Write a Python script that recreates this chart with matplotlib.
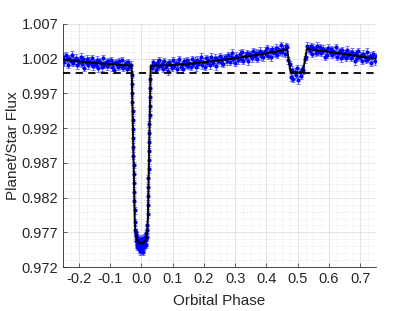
import numpy as np
import matplotlib
matplotlib.use('Agg')
import matplotlib.pyplot as plt
from matplotlib.ticker import AutoMinorLocator, FormatStrFormatter

# phases in units of 0.001, flux in ppm above 1.0
pre_phase = [-250, -246, -242, -238, -234, -230, -226, -222, -218, -214, -210, -206, -202, -198, -194,
             -190, -186, -182, -178, -174, -170, -166, -162, -158, -154, -150, -146, -142, -138, -134,
             -130, -126, -122, -118, -114, -110, -106, -102, -98, -94, -90, -86, -82, -78, -74,
             -70, -66, -62, -58, -54, -50, -46, -42, -38, -34]
pre_flux = [2250, 1456, 2462, 1948, 1104, 2060, 1606, 2572, 1378, 1744, 2130, 1076, 1802, 1501, 2294,
            1306, 1918, 711, 1533, 2026, 1088, 1700, 1373, 2075, 928, 1520, 1127, 1854, 652, 1649,
            1406, 783, 2070, 1158, 1495, 902, 1649, 1196, 1814, 771, 1358, 425, 1512, 1170, 857,
            1644, 951, 1788, 676, 1153, 1360, 447, 1475, 822, 1159]

# primary transit: ingress wall, bottom, egress wall
tr_phase = [-30.41, -29.82, -29.23, -28.64, -28.05, -27.45, -26.86, -26.27, -25.68, -25.09, -24.50,
            -23.91, -23.32, -22.73, -22.14, -21.55,
            -20.5, -19.5, -18.5, -17.5, -16.5, -15.5, -14.5, -13.5, -12.5, -11.5, -10.5, -9.5, -8.5,
            -7.5, -6.5, -5.5, -4.5, -3.5, -2.5, -1.5, -0.5, 0.5, 1.5, 2.5, 3.5, 4.5, 5.5, 6.5, 7.5,
            8.5, 9.5, 10.5, 11.5, 12.5, 13.5, 14.5, 15.5, 16.5, 17.5, 18.5, 19.5,
            20.27, 20.86, 21.45, 22.05, 22.64, 23.23, 23.82, 24.41, 25.00, 25.59, 26.18, 26.77,
            27.36, 27.95, 28.55, 29.14]
tr_flux = [-300, -1600, -2900, -4200, -5500, -6800, -8100, -9400, -10700, -12000, -13300,
           -14600, -15900, -17200, -18500, -19800,
           -21500, -22600, -23400, -23000, -24300, -23500, -24700, -23800, -25100, -24000, -24900,
           -23900, -25400, -24300, -25000, -24100, -25700, -24500, -25200, -24000, -25600, -24700,
           -25300, -23900, -25000, -24400, -25800, -24200, -24900, -23800, -25100, -24300, -24600,
           -23700, -24800, -23600, -24000, -23100, -23700, -22600, -21900,
           -20400, -19100, -17800, -16500, -15200, -13900, -12600, -11300, -10000, -8700, -7400,
           -6100, -4800, -3500, -2200, -900]

post_phase = [34, 38, 42, 46, 50, 54, 58, 62, 66, 70, 74, 78, 82, 86, 90, 94, 98, 102, 106, 110,
              114, 118, 122, 126, 130, 134, 138, 142, 146, 150, 154, 158, 162, 166, 170, 174, 178,
              182, 186, 190, 194, 198, 202, 206, 210, 214, 218, 222, 226, 230, 234, 238, 242, 246,
              250, 254, 258, 262, 266, 270, 274, 278, 282, 286, 290, 294, 298, 302, 306, 310, 314,
              318, 322, 326, 330, 334, 338, 342, 346, 350, 354, 358, 362, 366, 370, 374, 378, 382,
              386, 390, 394, 398, 402, 406, 410, 414, 418, 422, 426, 430, 434, 438, 442, 446, 450,
              454, 458, 462]
post_flux = [692, 1526, 1089, 372, 1406, 849, 1752, 975, 1289, 552, 1645, 818, 1186, 187, 1518, 1109,
             700, 1782, 973, 1434, 575, 1366, 1948, 869, 1230, 476, 1622, 1138, 1804, 1000, 1446,
             862, 1958, 1304, 1680, 746, 1852, 1211, 1662, 2254, 1086, 1587, 819, 2050, 1432, 1854,
             1085, 2307, 1688, 1410, 2104, 908, 1922, 1706, 2390, 1464, 1968, 1282, 2246, 1900,
             1644, 2528, 1523, 2230, 2876, 1892, 1449, 2425, 2212, 1768, 2684, 2001, 2937, 1734,
             2440, 2247, 2774, 1632, 2659, 2456, 2093, 3110, 2378, 2875, 1962, 2789, 3176, 2355,
             2786, 2236, 3117, 2677, 3467, 2418, 3078, 2218, 3369, 2959, 2760, 3550, 2562, 3384,
             2997, 3909, 2901, 3433, 2736, 3758]

ecl_phase = [466, 470, 474, 478, 482, 486, 490, 494, 498, 502, 506, 510, 514, 518, 522, 526, 530]
ecl_flux = [3630, 1750, 1220, -650, 420, -900, 150, -300, 600, -1100, 80, -450, 520, 323, 1919,
            2315, 3850]

late_phase = [534, 538, 542, 546, 550, 554, 558, 562, 566, 570, 574, 578, 582, 586, 590, 594, 598,
              602, 606, 610, 614, 618, 622, 626, 630, 634, 638, 642, 646, 650, 654, 658, 662, 666,
              670, 674, 678, 682, 686, 690, 694, 698, 702, 706, 710, 714, 718, 722, 726, 730, 734,
              738, 742, 746, 750]
late_flux = [3521, 3147, 3764, 2700, 3576, 3333, 2819, 3896, 3022, 3679, 2855, 3132, 3438, 2314, 3210,
             2586, 3592, 2938, 3354, 2570, 3126, 2752, 3628, 2304, 2890, 3092, 2054, 3216, 2448,
             2800, 2162, 3264, 2516, 2798, 2140, 3032, 2494, 1627, 2791, 2136, 3080, 2244, 2499,
             1723, 2727, 2291, 1876, 3020, 2004, 2409, 1403, 2197, 2661, 1606, 2350]

flux_err = 500  # ppm

# best-fit model (black line)
model_phase = [-250, -200, -150, -100, -50, -31, -21, -19, -17, -13, -7, 0, 7, 13, 17, 19, 21, 30,
               80, 130, 180, 230, 280, 330, 380, 430, 466, 477, 516, 529, 580, 630, 680, 750]
model_flux = [1900, 1600, 1380, 1220, 1060, 1000, -21000, -22800, -23600, -24200, -24500, -24600,
              -24500, -24200, -23600, -22800, -21000, 1000, 1040, 1180, 1380, 1650, 1950, 2280,
              2620, 3000, 3380, 0, 0, 3400, 3100, 2800, 2450, 2000]

yticks = [0.972, 0.977, 0.982, 0.987, 0.992, 0.997, 1.002, 1.007]
xticks = [-0.2, -0.1, 0, 0.1, 0.2, 0.3, 0.4, 0.5, 0.6, 0.7]

plt.rcParams['font.family'] = ['Liberation Sans', 'DejaVu Sans']
plt.rcParams['axes.unicode_minus'] = False

phase = np.concatenate([pre_phase, tr_phase, post_phase, ecl_phase, late_phase]) / 1000.0
flux = 1 + np.concatenate([pre_flux, tr_flux, post_flux, ecl_flux, late_flux]) / 1e6

fig = plt.figure(figsize=(4.15, 3.11), dpi=100)
ax = fig.add_axes([0.152, 0.141, 0.754, 0.782])

ax.errorbar(phase, flux, yerr=flux_err / 1e6, fmt='none', ecolor=(0.3, 0.3, 1.0),
            elinewidth=0.7, capsize=1.2, capthick=0.6, alpha=0.85, zorder=2)
ax.plot(phase, flux, '.', color=(0, 0, 1), ms=4, zorder=3)
ax.plot(np.array(model_phase) / 1000.0, 1 + np.array(model_flux) / 1e6, color='black', lw=1.4, zorder=4)
ax.axhline(1.0, color='black', ls=(0, (4, 3)), lw=1.3, zorder=4)

ax.set_xlim(-0.25, 0.75)
ax.set_ylim(0.972, 1.007)
ax.set_xticks(xticks)
ax.set_yticks(yticks)
ax.yaxis.set_major_formatter(FormatStrFormatter('%.3f'))
ax.xaxis.set_minor_locator(AutoMinorLocator(4))
ax.yaxis.set_minor_locator(AutoMinorLocator(5))
ax.grid(True, which='major', color=(0.88, 0.88, 0.88), lw=0.6)
ax.grid(True, which='minor', color=(0.86, 0.86, 0.86), lw=0.5, ls=':')
ax.set_axisbelow(True)
ax.tick_params(which='both', direction='in', colors=(0.15, 0.15, 0.15), labelsize=10.5,
               length=3, width=0.5)
ax.tick_params(which='minor', length=0)
for s in ['top', 'right']:
    ax.spines[s].set_visible(False)
for s in ['left', 'bottom']:
    ax.spines[s].set_color((0.15, 0.15, 0.15))
    ax.spines[s].set_linewidth(0.6)

ax.set_xlabel('Orbital Phase', fontsize=11, color=(0.15, 0.15, 0.15), labelpad=6)
ax.set_ylabel('Planet/Star Flux', fontsize=11, color=(0.15, 0.15, 0.15), labelpad=1)

fig.savefig('out.png', dpi=100)
